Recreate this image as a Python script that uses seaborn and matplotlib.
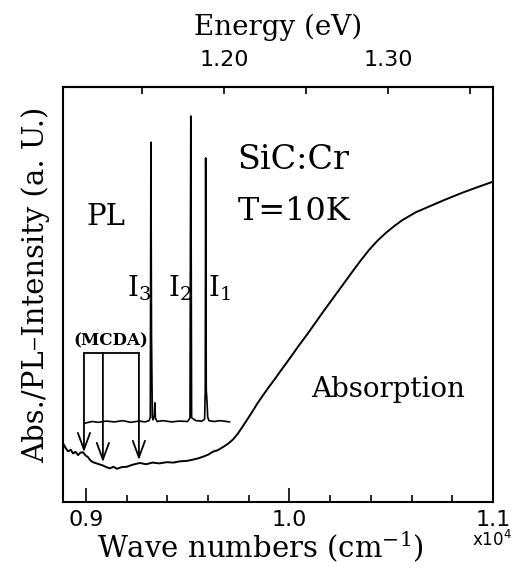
import numpy as np
import pandas as pd
import matplotlib
matplotlib.use("Agg")
import matplotlib.pyplot as plt
import seaborn as sns
from matplotlib.ticker import FixedLocator

# ---------------- data ----------------
abs_nu = [8887, 8900, 8912, 8925, 8936, 8948, 8961, 8973, 8985, 8998, 9010, 9022,
          9034, 9058, 9083, 9100, 9118, 9135, 9152, 9175, 9201, 9230, 9265, 9295,
          9328, 9360, 9397, 9430, 9461, 9495, 9525, 9550, 9574, 9600, 9623, 9648,
          9672, 9697, 9721, 9745, 9770, 9794, 9819, 9843, 9868, 9897, 9926, 9955,
          9985, 10017, 10049, 10081, 10113, 10162, 10211, 10260, 10309, 10350,
          10392, 10433, 10475, 10515, 10554, 10620, 10686, 10767, 10848, 10920, 10995]
abs_int = [14.2, 13.0, 12.2, 12.6, 11.7, 12.1, 11.3, 11.9, 12.0, 11.2, 10.8, 10.0,
           9.6, 9.2, 8.8, 8.4, 8.1, 8.5, 8.0, 8.4, 8.5, 9.0, 9.4, 9.1,
           9.5, 9.3, 9.6, 9.5, 9.8, 9.9, 10.2, 10.5, 10.9, 11.4, 12.1, 12.5,
           13.2, 14.0, 15.0, 16.4, 18.2, 20.0, 21.9, 23.8, 25.6, 27.6, 29.5, 31.5,
           33.5, 35.7, 37.9, 40.0, 42.2, 45.6, 48.9, 52.2, 55.5, 58.2,
           60.8, 63.0, 64.9, 66.5, 67.9, 69.8, 71.2, 72.9, 74.5, 75.8, 77.1]

pl_nu = [8995, 9030, 9060, 9100, 9140, 9180, 9220, 9260, 9290, 9310, 9316, 9319,
         9322, 9326, 9330, 9336, 9338, 9341, 9350, 9380, 9420, 9460, 9500, 9511,
         9513, 9515, 9517, 9519, 9540, 9570, 9583, 9586, 9588, 9591, 9595, 9598,
         9604, 9630, 9660, 9706]
pl_int = [19.0, 19.4, 19.2, 19.5, 19.3, 19.6, 19.2, 19.5, 19.3, 19.6, 20.5, 86.7,
          40.0, 20.3, 19.8, 21.0, 23.9, 20.2, 19.4, 19.6, 19.3, 19.5, 19.4, 20.3,
          60.0, 93.0, 60.0, 20.3, 19.6, 19.5, 20.0, 27.0, 82.9, 27.0, 24.0, 20.5,
          19.6, 19.4, 19.6, 19.3]

mcda_nu = [8990, 9083, 9260]
mcda_tip = [12.0, 9.6, 10.1]

peak_labels = ["I$_3$", "I$_2$", "I$_1$"]
bottom_ticks = [9000, 10000, 11000]
bottom_labels = ["0.9", "1.0", "1.1"]
top_ticks = [1.20, 1.30]
top_labels = ["1.20", "1.30"]
top_minor = [1.15, 1.25, 1.35]

EV_PER_CM = 1.23984e-4

# ---------------- style ----------------
sns.set_theme(style="white")
plt.rcParams["font.family"] = ["DejaVu Serif"]
plt.rcParams["mathtext.fontset"] = "dejavuserif"
plt.rcParams["axes.linewidth"] = 1.5
plt.rcParams["text.color"] = "black"
plt.rcParams["xtick.color"] = "black"
plt.rcParams["xtick.labelcolor"] = "black"
plt.rcParams["axes.edgecolor"] = "black"

fig = plt.figure(figsize=(5.17, 5.69), dpi=100)
ax = fig.add_axes([63 / 517, 67 / 569, 430 / 517, 415 / 569])

df_abs = pd.DataFrame({"nu": abs_nu, "I": abs_int})
df_pl = pd.DataFrame({"nu": pl_nu, "I": pl_int})
sns.lineplot(data=df_abs, x="nu", y="I", ax=ax, color="black", lw=1.4,
             sort=False, estimator=None)
sns.lineplot(data=df_pl, x="nu", y="I", ax=ax, color="black", lw=1.2,
             sort=False, estimator=None)

ax.set_xlim(8887, 11000)
ax.set_ylim(0, 100)
ax.set_xlabel("")
ax.set_ylabel("")
for s in ax.spines.values():
    s.set_color("black")
    s.set_linewidth(1.5)

# bottom ticks
ax.xaxis.set_major_locator(FixedLocator(bottom_ticks))
ax.set_xticklabels(bottom_labels, family="DejaVu Sans", fontsize=16,
                   color="black")
ax.xaxis.set_minor_locator(FixedLocator(np.arange(9200, 11000, 200)))
ax.tick_params(axis="x", which="major", direction="in", length=10, width=1.2,
               pad=6, bottom=True, top=False, colors="black")
ax.tick_params(axis="x", which="minor", direction="in", length=5, width=1.2,
               bottom=True, top=False, colors="black")
ax.set_yticks([])

# top energy axis
sec = ax.secondary_xaxis("top", functions=(lambda n: n * EV_PER_CM,
                                           lambda e: e / EV_PER_CM))
sec.set_xticks(top_ticks)
sec.set_xticklabels(top_labels, family="DejaVu Sans", fontsize=16,
                    color="black")
sec.xaxis.set_minor_locator(FixedLocator(top_minor))
sec.tick_params(axis="x", which="both", direction="in", length=5, width=1.2,
                pad=12, colors="black")
sec.spines["top"].set_linewidth(1.5)
sec.spines["top"].set_color("black")

# annotations
ax.text(9744, 82.4, "SiC:Cr", fontsize=24, ha="left", va="center")
ax.text(9745, 69.9, "T=10K", fontsize=23, ha="left", va="center")
ax.text(9098, 68.7, "PL", fontsize=21, ha="center", va="center")
for nu0, lab in zip([9201, 9402, 9598], peak_labels):
    ax.text(nu0, 49.6, lab, fontsize=20, ha="left", va="baseline")
ax.text(10108, 25.3, "Absorption", fontsize=20, ha="left", va="baseline")
ax.text(9123, 38.8, "(MCDA)", fontsize=12, ha="center", va="center",
        fontweight="bold")

bracket_y = 35.9
ax.plot([mcda_nu[0], mcda_nu[-1]], [bracket_y, bracket_y], color="black", lw=1.3)
for n0, t0 in zip(mcda_nu, mcda_tip):
    ax.annotate("", xy=(n0, t0), xytext=(n0, bracket_y),
                arrowprops=dict(arrowstyle="->,head_length=0.6,head_width=0.22",
                                color="black", lw=1.3, mutation_scale=20,
                                shrinkA=0, shrinkB=0))

# axis labels
fig.text(278 / 517, 1 - 27 / 569, "Energy (eV)", fontsize=20, ha="center",
         va="center")
fig.text(260 / 517, 1 - 547 / 569, "Wave numbers (cm$^{-1}$)", fontsize=21,
         ha="center", va="center")
fig.text(492 / 517, 1 - 540 / 569, r"x10$^{4}$", fontsize=12, ha="center",
         va="center", family="DejaVu Sans",
         math_fontfamily="dejavusans")
fig.text(36 / 517, 1 - 285 / 569, "Abs./PL\u2013Intensity (a. U.)", fontsize=21,
         ha="center", va="center", rotation=90)

fig.savefig("out.png", dpi=100)
